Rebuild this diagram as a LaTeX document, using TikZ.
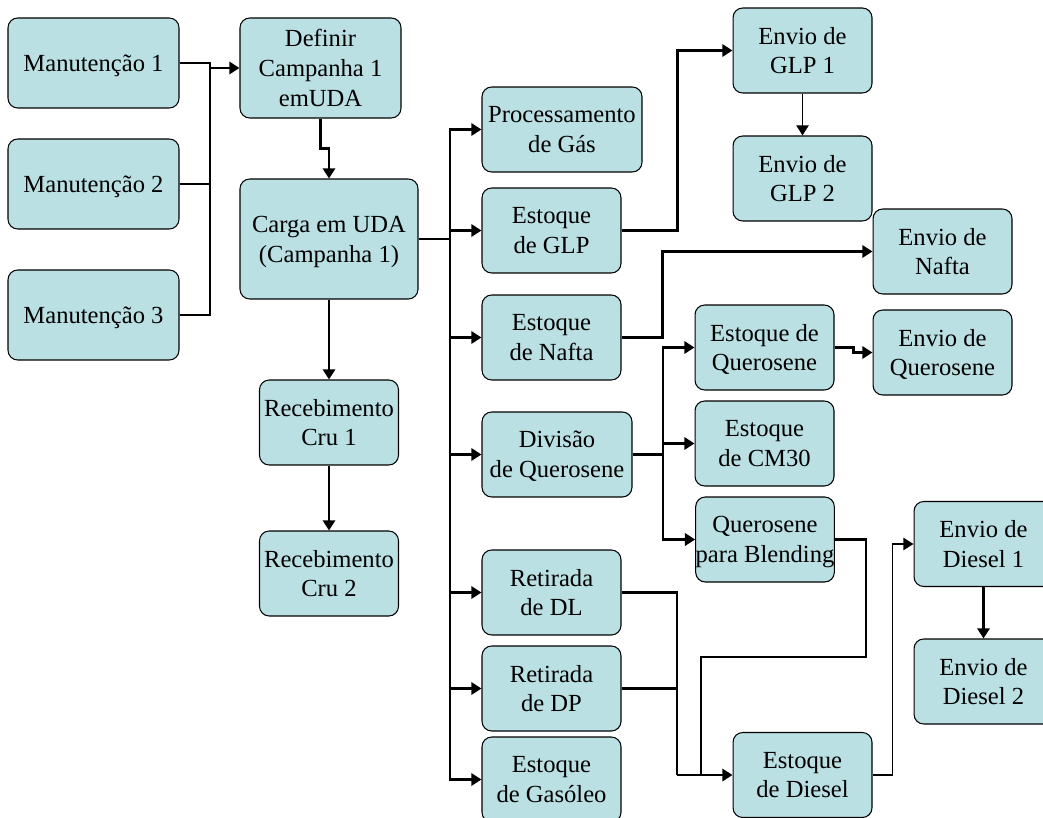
\documentclass[tikz,border=0pt]{standalone}
\usepackage{fontspec}
\setmainfont{Liberation Serif}
\usetikzlibrary{arrows.meta}
\definecolor{boxfill}{RGB}{186,224,227}

\begin{document}
\begin{tikzpicture}[
            x = 0.02cm, y = -0.02cm,
            every node/.style={text depth=0pt},
            box/.style={draw, fill=boxfill, rounded corners=5.5pt, line width=.6pt,
                align=center, inner sep=0pt, font=\fontsize{14}{17}\selectfont},
            sbox/.style={box, minimum width=2.78cm, minimum height=1.7cm},
            line/.style={line width = 1.4pt},
            arrow/.style={line, -{Triangle[length=5.8pt, width=7pt]}},
            thin/.style={arrow, line width = 1pt},
            ]
        \useasboundingbox (0, 0) rectangle (1043, 817);

        % left column
        \node[box, minimum width=3.42cm, minimum height=1.8cm] (man1) at (93.5, 63) {Manutenção 1};
        \node[box, minimum width=3.42cm, minimum height=1.8cm] (man2) at (93.5, 184) {Manutenção 2};
        \node[box, minimum width=3.42cm, minimum height=1.8cm] (man3) at (93.5, 315) {Manutenção 3};

        \node[box, minimum width=3.22cm, minimum height=2cm] (def) at (320.5, 68) {Definir\\Campanha 1\\emUDA};
        \node[box, minimum width=3.56cm, minimum height=2.4cm] (carga) at (329, 239) {Carga em UDA\\(Campanha 1)};
        \node[sbox] (cru1) at (329, 422.5) {Recebimento\\Cru 1};
        \node[sbox] (cru2) at (329, 573.5) {Recebimento\\Cru 2};

        % middle column
        \node[box, minimum width=3.2cm, minimum height=1.7cm] (proc) at (562, 129.5) {Processamento\\de Gás};
        \node[sbox] (eglp) at (551.5, 230.5) {Estoque\\de GLP};
        \node[sbox] (enafta) at (551.5, 337.5) {Estoque\\de Nafta};
        \node[box, minimum width=3cm, minimum height=1.7cm] (divq) at (557, 454.5) {Divisão\\de Querosene};
        \node[sbox] (retdl) at (551.5, 592.5) {Retirada\\de DL};
        \node[sbox] (retdp) at (551.5, 688.5) {Retirada\\de DP};
        \node[sbox] (gasoleo) at (551.5, 779.5) {Estoque\\de Gasóleo};

        % right columns
        \node[sbox] (glp1) at (802.5, 50.5) {Envio de\\GLP 1};
        \node[sbox] (glp2) at (802.5, 178.5) {Envio de\\GLP 2};
        \node[sbox] (envnafta) at (942.5, 251.5) {Envio de\\Nafta};
        \node[sbox] (estq) at (764.5, 347.5) {Estoque de\\Querosene};
        \node[sbox] (envq) at (942.5, 352.5) {Envio de\\Querosene};
        \node[sbox] (cm30) at (764.5, 443.5) {Estoque\\de CM30};
        \node[box, minimum width=2.76cm, minimum height=1.7cm] (blend) at (765, 539.5) {Querosene\\para Blending};
        \node[sbox] (diesel) at (802.5, 775) {Estoque\\de Diesel};
        \node[sbox] (envd1) at (983.5, 544) {Envio de\\Diesel 1};
        \node[sbox] (envd2) at (983.5, 681.5) {Envio de\\Diesel 2};

        \coordinate (j1) at (210, 68);
        \coordinate (t1) at (450, 239);
        \coordinate (t2) at (663, 454.5);
        \coordinate (j3) at (677, 775);
        \coordinate (c1) at (866, 657);
        \coordinate (c2) at (701, 775);

        % maintenance into campaign
        \draw[line] (man1.east) -| (j1);
        \draw[line] (man3.east) -| (j1);
        \draw[line] (man2.east) -- (j1 |- man2.east);
        \draw[arrow] (j1) -- (def.west);
        \draw[arrow] (def.south) -- ++(0, 30) -| (carga.north);
        \draw[arrow] (carga.south) -- (cru1.north);
        \draw[arrow] (cru1.south) -- (cru2.north);

        % products of UDA
        \draw[line] (carga.east) -- (t1);
        \draw[arrow] (t1) |- (proc.west);
        \draw[arrow] (t1) |- (eglp.west);
        \draw[arrow] (t1) |- (enafta.west);
        \draw[arrow] (t1) |- (divq.west);
        \draw[arrow] (t1) |- (retdl.west);
        \draw[arrow] (t1) |- (retdp.west);
        \draw[arrow] (t1) |- (gasoleo.west);

        \draw[arrow] (eglp.east) -- ++(56, 0) |- (glp1.west);
        \draw[thin] (glp1.south) -- (glp2.north);
        \draw[arrow] (enafta.east) -- ++(41, 0) |- (envnafta.west);

        % kerosene split
        \draw[line] (divq.east) -- (t2);
        \draw[arrow] (t2) |- (estq.west);
        \draw[arrow] (t2) |- (cm30.west);
        \draw[arrow] (t2) |- (blend.west);
        \draw[arrow] (estq.east) -- ++(19, 0) |- (envq.west);

        % diesel
        \draw[line] (retdl.east) -| (j3);
        \draw[line] (retdp.east) -| (j3);
        \draw[line] (blend.east) -| (c1) -| (c2);
        \draw[arrow] (j3) -- (diesel.west);
        \draw[thin] (diesel.east) -- ++(20, 0) |- (envd1.west);
        \draw[arrow] (envd1.south) -- (envd2.north);
    \end{tikzpicture}
\end{document}
